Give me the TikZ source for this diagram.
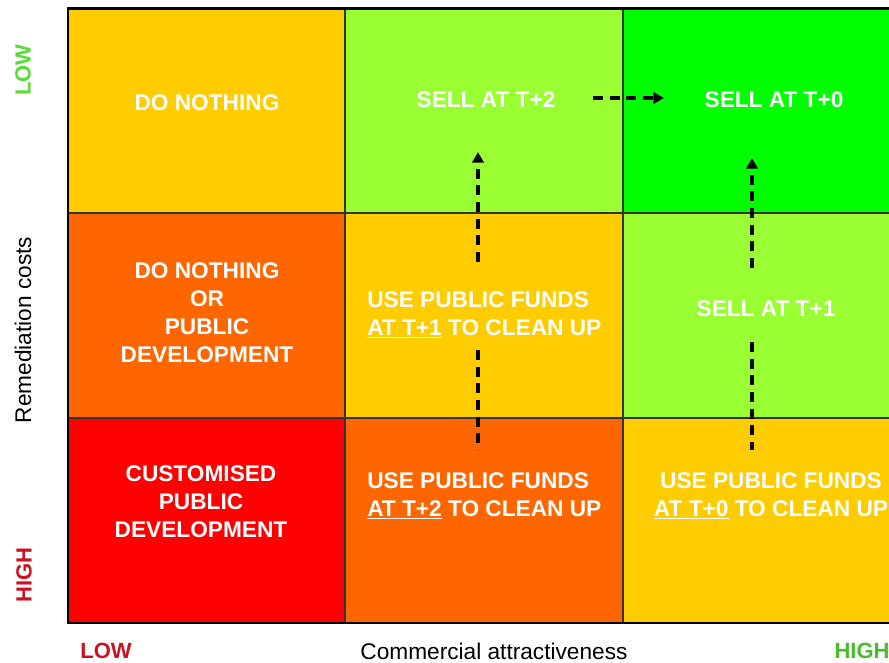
\documentclass[tikz,border=0pt]{standalone}
\usepackage{fontspec}
\setmainfont{Liberation Sans}
\usetikzlibrary{arrows.meta}
\definecolor{cyel}{HTML}{FFCC00}
\definecolor{corg}{HTML}{FF6600}
\definecolor{cred}{HTML}{FF0000}
\definecolor{clgr}{HTML}{99FF33}
\definecolor{cgrn}{HTML}{00FF00}
\definecolor{lowgreen}{HTML}{55DD33}
\definecolor{labred}{HTML}{CC1122}
\definecolor{gridline}{HTML}{333333}
\begin{document}
\begin{tikzpicture}[x=0.75pt,y=-0.75pt,
  celltext/.style={text=white,font=\fontsize{17}{21}\selectfont\bfseries,align=center,inner sep=0pt},
  axislab/.style={font=\fontsize{17}{20}\selectfont,inner sep=0pt},
  boldlab/.style={font=\fontsize{16.5}{20}\selectfont\bfseries,inner sep=0pt},
  flow/.style={line width=2.3pt,dash pattern=on 7.5pt off 5pt,-{Triangle[length=8pt,width=8.5pt]}},
  flowplain/.style={line width=2.3pt,dash pattern=on 7.5pt off 5pt},
  thingrid/.style={draw=gridline,line width=0.8pt},
  outerframe/.style={draw=black,line width=1.6pt}
]
\useasboundingbox (0,0) rectangle (889,663);
\begin{scope}
  \clip (0,0) rectangle (889,663);
  % top row
  \fill[cyel] (68,8.5) rectangle (345,213);
  \fill[clgr] (345,8.5) rectangle (623,213);
  \fill[cgrn] (623,8.5) rectangle (900,213);
  % middle row
  \fill[corg] (68,213) rectangle (345,418);
  \fill[cyel] (345,213) rectangle (623,418);
  \fill[clgr] (623,213) rectangle (900,418);
  % bottom row
  \fill[cred] (68,418) rectangle (345,623);
  \fill[corg] (345,418) rectangle (623,623);
  \fill[cyel] (623,418) rectangle (900,623);
  % inner grid lines
  \draw[thingrid] (345,8.5) -- (345,623);
  \draw[thingrid] (623,8.5) -- (623,623);
  \draw[thingrid] (68,213) -- (900,213);
  \draw[thingrid] (68,418) -- (900,418);
  % outer frame (right side runs off the page)
  \draw[outerframe] (900,8.5) -- (68,8.5) -- (68,623) -- (900,623);
\end{scope}

% cell texts
\node[celltext] (dn) at (207,103) {DO NOTHING};
\node[celltext] (s2) at (486,100) {SELL AT T+2};
\node[celltext] (s0) at (774,100) {SELL AT T+0};
\node[celltext] (dnp) at (207,313) {DO NOTHING\\OR\\PUBLIC\\DEVELOPMENT};
\node[celltext,align=left,anchor=west] (u1) at (367,315) {USE PUBLIC FUNDS\\\underline{AT T+1} TO CLEAN UP};
\node[celltext] (s1) at (766,309) {SELL AT T+1};
\node[celltext] (cpd) at (201,502) {CUSTOMISED\\PUBLIC\\DEVELOPMENT};
\node[celltext,align=left,anchor=west] (u2) at (367,496) {USE PUBLIC FUNDS\\\underline{AT T+2} TO CLEAN UP};
\node[celltext] (u0) at (771,496) {USE PUBLIC FUNDS\\\underline{AT T+0} TO CLEAN UP};

% axis labels
\node[boldlab,text=lowgreen,rotate=90] (ylow) at (23,70) {LOW};
\node[axislab,rotate=90] (ylab) at (23,330) {Remediation costs};
\node[boldlab,text=labred,rotate=90] (yhigh) at (24,575) {HIGH};
\node[boldlab,text=labred] (xlow) at (106,651) {LOW};
\node[axislab] (xlab) at (494,651) {Commercial attractiveness};
\node[boldlab,text=lowgreen!85!black] (xhigh) at (862,651) {HIGH};

% connectors
\coordinate (h1) at (593,98);
\coordinate (h2) at (664,98);
\draw[flow] (h1) -- (h2);

\coordinate (c2a) at (478,350);
\coordinate (c2b) at (478,450);
\coordinate (c2c) at (478,262);
\coordinate (c2d) at (478,152);
\draw[flowplain] (c2a) -- (c2b);
\draw[flow] (c2c) -- (c2d);

\coordinate (c3a) at (752,342);
\coordinate (c3b) at (752,450);
\coordinate (c3c) at (752,268);
\coordinate (c3d) at (752,158);
\draw[flowplain] (c3a) -- (c3b);
\draw[flow] (c3c) -- (c3d);
\end{tikzpicture}
\end{document}
